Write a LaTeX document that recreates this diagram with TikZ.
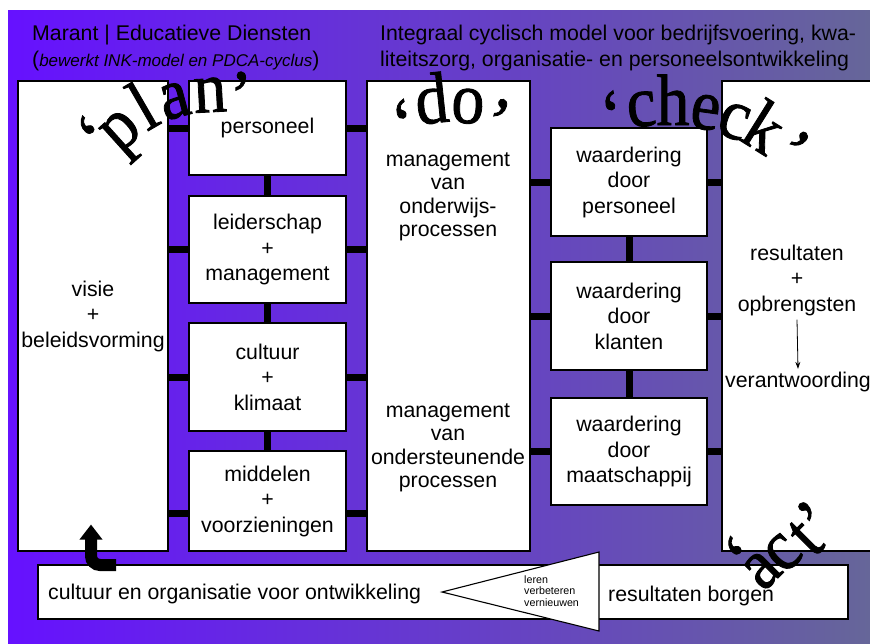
\documentclass[tikz,border=0pt]{standalone}
\usepackage{fontspec}
\setmainfont{Liberation Sans}
\newfontfamily\artfont[FakeBold=1.2]{Liberation Serif}
\usetikzlibrary{arrows.meta, positioning}
\definecolor{PlanViolet}{RGB}{102, 17, 255}
\definecolor{CheckGrey}{RGB}{102, 102, 153}

\begin{document}
\begin{tikzpicture}[
    x=1pt, y=-1pt,
    font=\fontsize{21.3}{25.5}\selectfont,
    box/.style={rectangle, draw=black, fill=white, line width=1.1pt, align=center, inner sep=0pt},
    plainbox/.style={box, minimum width=157pt},
    checkbox/.style={box, minimum width=156pt, minimum height=108pt},
    link/.style={line width=7pt, black},
    textline/.style={align=center, inner sep=0pt},
    wordart/.style={font=\artfont\fontsize{66}{66}\selectfont, anchor=base, inner sep=0pt},
    fatarrow/.style={line width=12pt, rounded corners=9pt, -{Triangle[length=15pt, width=22pt]}}
]

    % Background
    \useasboundingbox (0,0) rectangle (870,643);
    \shade [left color=PlanViolet, right color=CheckGrey] (8,10) rectangle (870,643);

    % Titles
    \node (marant) [anchor=base west, align=left, inner sep=0pt] at (32,66) {Marant | Educatieve Diensten\\(\textit{\fontsize{17}{17}\selectfont bewerkt INK-model en PDCA-cyclus})};
    \node (integraal) [anchor=base west, align=left, inner sep=0pt] at (380,66) {Integraal cyclisch model voor bedrijfsvoering, kwa-\\liteitszorg, organisatie- en personeelsontwikkeling};

    % Plan
    \node (visie) [box, minimum width=150pt, minimum height=470pt] at (93,316) {visie\\+\\beleidsvorming};
    \node (personeel) [plainbox, minimum height=94pt] at (267.5,128) {personeel};
    \node (leiderschap) [plainbox, minimum height=107pt] at (267.5,249.5) {leiderschap\\+\\management};
    \node (cultuur) [plainbox, minimum height=108pt] at (267.5,377) {cultuur\\+\\klimaat};
    \node (middelen) [plainbox, minimum height=100pt] at (267.5,501) {middelen\\+\\voorzieningen};

    % Do
    \node (dobox) [box, minimum width=163pt, minimum height=470pt] at (448.5,316) {};
    \node (onderwijs) [textline, font=\fontsize{21.3}{23.5}\selectfont] at (448,197) {management\\van\\onderwijs-\\processen};
    \node (ondersteunend) [textline, font=\fontsize{21.3}{23.5}\selectfont] at (448,448) {management\\van\\ondersteunende\\processen};

    % Check
    \node (wpersoneel) [checkbox] at (629,182) {waardering\\door\\personeel};
    \node (wklanten) [checkbox] at (629,316) {waardering\\door\\klanten};
    \node (wmaatschappij) [checkbox, minimum height=107pt] at (629,451.5) {waardering\\door\\maatschappij};

    % Results
    \node (resultbox) [box, minimum width=158pt, minimum height=470pt] at (801,316) {};
    \node (opbrengsten) [textline] at (797,280) {resultaten\\+\\opbrengsten};
    \node (verantwoording) [textline] at (798,382) {verantwoording};
    \draw [line width=0.8pt, -{Stealth[length=7pt, width=5pt]}] ([yshift=-4pt]opbrengsten.south) -- ([yshift=3pt]verantwoording.north);

    % Act
    \node (borgbar) [box, minimum width=810pt, minimum height=54pt] at (443,592) {};
    \node (ontwikkeling) [anchor=west, inner sep=0pt] at (48,594) {cultuur en organisatie voor ontwikkeling};
    \node (borgen) [anchor=west, inner sep=0pt] at (608,596) {resultaten borgen};
    \coordinate (tritip) at (442,592);
    \coordinate (tritop) at (599,552);
    \coordinate (tribot) at (599,631);
    \draw [fill=white, line width=1.1pt] (tritip) -- (tritop) -- (tribot) -- cycle;
    \node (leren) [anchor=west, align=left, inner sep=0pt, font=\fontsize{10.7}{11.6}\selectfont] at (524,591) {leren\\verbeteren\\vernieuwen};

    % Connections
    \coordinate (midlink) at ([yshift=-12pt]middelen.west);
    \foreach \n in {personeel, leiderschap, cultuur} {
        \draw [link] (visie.east |- \n.west) -- (\n.west);
        \draw [link] (\n.east) -- (dobox.west |- \n.east);
    }
    \draw [link] (visie.east |- midlink) -- (midlink);
    \draw [link] (middelen.east |- midlink) -- (dobox.west |- midlink);
    \draw [link] (personeel) -- (leiderschap);
    \draw [link] (leiderschap) -- (cultuur);
    \draw [link] (cultuur) -- (middelen);
    \foreach \n in {wpersoneel, wklanten, wmaatschappij} {
        \draw [link] (dobox.east |- \n.west) -- (\n.west);
        \draw [link] (\n.east) -- (resultbox.west |- \n.east);
    }
    \draw [link] (wpersoneel) -- (wklanten);
    \draw [link] (wklanten) -- (wmaatschappij);

    \coordinate (loopstart) at (116,565);
    \draw [fatarrow] (loopstart) -| ([xshift=-2pt, yshift=27pt]visie.south);

    % Word art
    \foreach \ch/\px/\py/\rot [count=\i] in {‘/115/152/48, p/132/143/42, l/155/127/30, a/179/117/15, n/211/112/3, ’/241/120/0}
        \node (plan\i) [wordart, rotate=\rot, yscale=1.1] at (\px,\py) {\ch};
    \foreach \ch/\px/\py/\rot [count=\i] in {‘/411/147/15, d/434/123/6, o/467/123/-3, ’/491/146/-15}
        \node (do\i) [wordart, rotate=\rot, yscale=1.1] at (\px,\py) {\ch};
    \foreach \ch/\px/\py/\rot [count=\i] in {‘/618/139/12, c/643/126/5, h/673/125/0, e/703/129/-8, c/728/137/-20, k/752/148/-32, ’/775/170/-40}
        \node (check\i) [wordart, rotate=\rot, yscale=1.1] at (\px,\py) {\ch};
    \foreach \ch/\px/\py/\rot [count=\i] in {‘/761/574/45, a/774/582/45, c/795/565/45, t/820/552/45, ’/834/538/45}
        \node (act\i) [wordart, rotate=\rot, yscale=1.1] at (\px,\py) {\ch};

\end{tikzpicture}
\end{document}
